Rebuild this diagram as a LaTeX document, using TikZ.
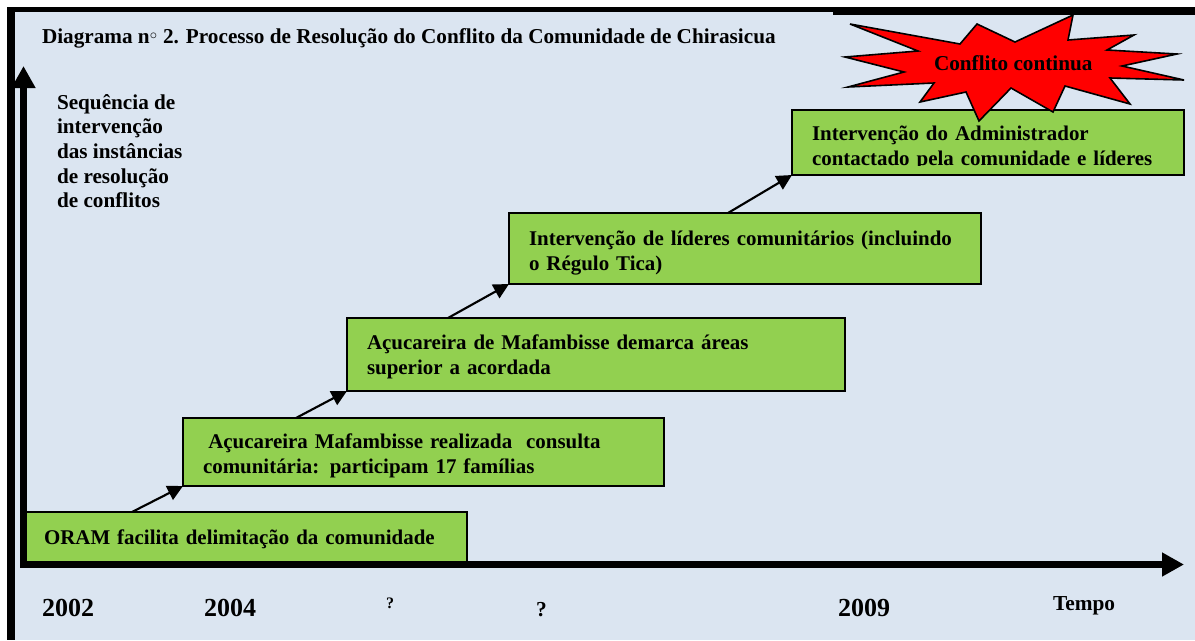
\documentclass[tikz,border=0pt]{standalone}
\usepackage{fontspec}
\setmainfont{Liberation Serif}
\usetikzlibrary{arrows.meta}
\definecolor{bgblue}{HTML}{DBE5F1}
\definecolor{boxgreen}{HTML}{92D050}
\newcommand{\fs}[2]{\fontsize{#1}{#2}\selectfont\bfseries}
\tikzset{
  stagebox/.style={draw=black,line width=1.6pt,fill=boxgreen,anchor=north west,outer sep=0pt,inner ysep=0pt,inner xsep=15pt,align=left,font=\fs{15.7}{18.7}},
  lbl/.style={inner sep=0pt,outer sep=0pt,align=left,anchor=base west},
  stepline/.style={line width=1.6pt,-{Triangle[length=11.5pt,width=11.5pt]}},
  axisline/.style={line width=5.4pt,-{Triangle[length=16.5pt,width=17pt]}},
  frame/.style={fill=black,draw=none}
}
\begin{document}
\begin{tikzpicture}[x=0.75pt,y=-0.75pt]
\useasboundingbox (0,0) rectangle (1195,640);
\fill[bgblue] (7,7) rectangle (1195,640);
\fill[frame] (7,7) rectangle (15,640);
\fill[frame] (7,7) rectangle (833,12);
\fill[frame] (833,7) rectangle (1195,14.5);

% axes
\coordinate (origin) at (23.5,564.5);
\coordinate (ytop) at (23.5,66);
\coordinate (xend) at (1184,564.5);

% stages
\node[stagebox,minimum width=333.75pt,minimum height=37.5pt,text width=300.75pt,inner xsep=16.5pt] (b1) at (22,512) {\rule{0pt}{14pt}ORAM facilita delimitação da comunidade};
\node[stagebox,minimum width=361pt,minimum height=51pt,text width=331pt] (b2) at (183,418) {\rule{0pt}{16.5pt}\hspace*{4pt}Açucareira Mafambisse realizada\ \ consulta\\comunitária: participam 17 famílias};
\node[stagebox,minimum width=373.5pt,minimum height=54.75pt,text width=343.5pt] (b3) at (347,318) {\rule{0pt}{14pt}Açucareira de Mafambisse demarca áreas\\superior a acordada};
\node[stagebox,minimum width=354pt,minimum height=53.25pt,text width=324pt] (b4) at (509,213) {\rule{0pt}{18pt}Intervenção de líderes comunitários (incluindo\\o Régulo Tica)};
\node[stagebox,minimum width=294pt,minimum height=48.75pt,text width=264pt] (b5) at (792,110) {\rule{0pt}{19.5pt}Intervenção do Administrador\\contactado pela comunidade e líderes};
% the last line of the box is cut at its foot
\fill[boxgreen] (793,165.5) rectangle (1183,174);

\draw[axisline] (origin) -- (ytop);
\draw[axisline] (origin) -- (xend);
\fill[frame] (20,561) rectangle (27,568);

% connectors
\coordinate (s1) at (132,512);
\coordinate (s2) at (296,418);
\coordinate (s3) at (448,318);
\coordinate (s4) at (728,213);
\draw[stepline] (s1) -- (b2.south west);
\draw[stepline] (s2) -- (b3.south west);
\draw[stepline] (s3) -- (b4.south west);
\draw[stepline] (s4) -- (b5.south west);

% burst
\draw[fill=red,draw=black,line width=1.2pt,line join=miter]
 (850,24)--(960,44)--(977,24)--(1015,42)--(1073,15)--(1068,40)--(1134,35)--(1107,50)--(1177,54)--(1122,66)--(1184,80)--(1110,78)--(1130,104)--(1065,86)--(1053,112)--(1011,88)--(979,121)--(966,92)--(920,102)--(934,83)--(848,87)--(904,72)--(845,57)--(918,51)--cycle;
\node[lbl,font=\fs{15.9}{18}] (burstlabel) at (934,70) {Conflito continua};

% texts
\node[lbl,font=\fs{15.9}{16}] (title) at (42,43) {Diagrama n\raisebox{-0.55ex}{${}^{\circ}$} 2. Processo de Resolução do Conflito da Comunidade de Chirasicua};
\node[lbl,font=\fs{15.9}{18.4},anchor=north west] (ylabel) at (57,94.5) {Sequência de\\intervenção\\das instâncias\\de resolução\\de conflitos};
\node[lbl,font=\fs{19.5}{24}] (y2002) at (42,616) {2002};
\node[lbl,font=\fs{19.5}{24}] (y2004) at (204,616) {2004};
\node[lbl,font=\fs{12}{16}] (q1) at (386,608) {?};
\node[lbl,font=\fs{16}{20}] (q2) at (536,616) {?};
\node[lbl,font=\fs{19.5}{24}] (y2009) at (838,616) {2009};
\node[lbl,font=\fs{16}{18}] (tempo) at (1053,610) {Tempo};
\end{tikzpicture}
\end{document}
